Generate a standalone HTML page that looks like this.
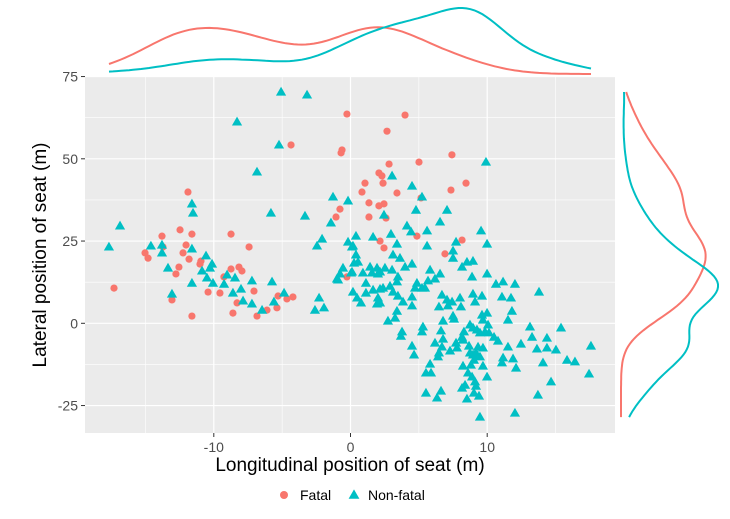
<!DOCTYPE html>
<html><head><meta charset="utf-8"><style>
html,body{margin:0;padding:0;background:#fff;}
svg{display:block;font-family:"Liberation Sans",Arial,sans-serif;}
</style></head><body>
<svg id="chart" width="730" height="519"></svg>
<script>
const xTicks=[-10,0,10];
const yTicks=[-25,0,25,50,75];
const fatalX=[-15.03,-14.81,-13.72,-12.03,-12.25,-11.81,-12.55,-12.77,-10.94,-11.01,-17.3,-13.06,-11.6,-10.42,-9.55,-9.26,-8.74,-8.16,-7.94,-7.42,-7.06,-8.3,-8.6,-6.84,-6.11,-5.38,-5.3,-4.65,-4.21,-0.26,-11.89,-13.79,-12.47,-11.6,-8.74,-4.35,-0.26,-0.62,-0.69,-0.77,-1.06,3.99,2.67,2.82,5.01,7.42,2.08,2.3,2.38,1.06,0.84,3.4,5.16,7.35,8.45,1.35,2.08,2.45,1.35,2.6,4.86,2.16,2.45,8.16,6.91];
const fatalY=[21.4,19.8,23.2,23.8,21.4,19.5,17.1,15.0,18.9,18.0,10.7,7.1,2.2,9.5,9.2,14.1,16.5,17.1,15.9,23.2,9.8,6.2,3.1,2.2,4.0,4.7,8.3,7.4,8.0,14.1,39.9,26.5,28.4,27.1,27.1,54.2,63.6,52.7,51.8,34.7,32.3,63.3,58.4,48.4,49.0,51.2,45.7,44.8,42.6,42.6,39.9,39.6,38.1,40.5,42.6,36.6,35.7,36.3,32.3,32.0,26.5,25.0,22.9,25.3,21.1];
const nonFatalX=[-5.08,-3.18,-8.3,-5.23,-6.84,-16.86,-11.6,-11.52,-5.82,-3.33,-1.28,-0.18,-1.43,-2.08,-2.45,0.4,-0.18,-17.67,-14.6,-13.79,-13.79,-11.6,-10.57,-13.35,-10.13,-10.28,-10.86,-10.5,-11.6,-10.06,-9.25,-9.03,-8.45,-7.21,-5.74,-8.01,-8.6,-7.86,-7.21,-6.47,-5.6,-4.86,-13.06,-2.3,-2.6,-1.94,0.11,0.4,0.26,-0.55,-0.77,-0.99,0.11,0.18,0.48,9.91,3.04,4.5,5.23,4.79,7.06,2.45,6.55,4.13,4.43,5.6,2.96,9.55,1.65,0.18,3.4,5.6,7.72,9.99,3.11,3.62,7.5,7.5,0.55,4.5,3.99,8.52,8.96,8.16,0.04,-0.91,0.91,1.43,1.57,1.94,2.01,2.16,2.52,3.04,3.47,3.4,5.82,6.55,6.18,5.67,4.86,4.72,5.23,5.45,1.13,1.65,2.16,2.38,2.89,3.11,0.77,1.13,2.01,2.16,1.94,3.47,3.84,4.5,4.5,3.4,3.26,2.74,6.69,7.06,7.43,8.01,6.47,7.13,8.08,7.5,7.57,6.77,8.96,9.62,9.11,9.62,9.99,9.69,9.99,8.89,10.64,11.16,12.03,11.08,11.74,11.81,11.52,13.79,5.3,5.23,3.77,3.69,4.5,4.65,6.62,6.77,6.18,6.69,6.47,6.4,5.82,5.52,5.89,7.28,7.72,7.79,8.23,8.16,8.74,8.3,8.96,9.25,9.47,10.06,9.84,10.13,10.5,10.79,8.67,8.74,8.96,9.18,9.47,9.33,9.69,9.03,9.69,8.23,8.81,8.6,8.89,9.11,9.99,8.38,8.16,9.18,9.03,9.4,8.52,5.52,6.62,6.33,9.47,12.03,13.71,14.67,14.08,11.89,12.11,11.08,11.16,11.52,12.47,13.28,13.13,13.64,14.37,14.37,15.03,15.4,15.84,16.42,17.59,17.45];
const nonFatalY=[70.3,69.4,61.2,54.2,46.0,29.6,36.3,33.5,33.5,32.6,38.4,37.2,30.5,25.6,23.5,26.5,24.7,23.2,23.5,23.8,21.4,22.6,20.5,16.8,18.0,16.8,15.9,13.8,12.2,12.2,11.9,14.7,13.8,12.9,12.6,10.4,9.2,6.8,5.9,4.0,6.5,9.2,8.9,7.7,4.0,4.7,23.2,20.8,18.3,16.8,15.0,13.5,15.6,9.5,7.7,49.0,44.8,41.7,38.4,34.4,34.4,32.9,30.8,29.6,27.8,28.1,27.1,28.1,26.2,23.5,24.1,23.5,24.7,24.1,20.8,19.8,22.0,19.8,18.6,18.0,17.1,18.6,18.9,17.1,15.3,13.2,15.3,17.1,15.3,16.8,15.0,15.6,16.8,16.2,14.1,12.6,16.2,15.0,13.5,12.9,12.2,10.7,10.7,10.7,12.2,10.1,10.4,10.7,11.3,9.5,6.2,9.2,7.7,6.2,5.9,8.3,6.5,8.0,5.3,3.7,1.6,0.7,8.6,7.1,6.5,7.7,5.0,5.3,5.0,2.2,1.3,0.7,8.9,8.3,6.5,2.5,3.1,1.0,15.0,14.1,11.9,12.6,11.9,8.0,7.7,3.7,1.0,9.5,-1.1,-2.6,-2.6,-3.9,-6.9,-9.6,-2.3,-4.8,-6.0,-7.2,-9.0,-10.2,-12.4,-15.1,-15.1,-8.4,-6.0,-7.5,-5.1,-4.2,-0.5,-2.6,-1.4,-2.0,-2.9,-0.5,-2.6,-2.9,-4.2,-5.4,-6.9,-9.0,-9.6,-9.0,-10.2,-7.2,-7.5,-11.2,-13.0,-13.0,-12.7,-15.1,-16.3,-17.8,-16.3,-18.8,-19.7,-19.1,-21.2,-22.1,-23.0,-21.2,-20.6,-22.7,-28.5,-27.3,-21.8,-17.8,-12.0,-10.8,-13.6,-12.0,-10.5,-7.2,-6.3,-4.2,-1.1,-7.8,-7.5,-4.5,-8.1,-1.4,-11.2,-11.7,-6.9,-15.4];

const NS="http://www.w3.org/2000/svg";
const svg=document.getElementById('chart');
const P={l:85,r:615,t:77,b:433};
const xS=v=>350.5+v*13.67;
const yS=v=>323.3-v*3.29;
function mk(tag,attrs,parent){const e=document.createElementNS(NS,tag);for(const k in attrs)e.setAttribute(k,attrs[k]);(parent||svg).appendChild(e);return e;}
const RED="#F8766D",TEAL="#00BFC4";

const panel=mk('rect',{x:P.l,y:P.t,width:P.r-P.l,height:P.b-P.t,fill:"#EBEBEB"});


// minor grid
for(let v=-15;v<=15;v+=10){const g=mk('line',{x1:xS(v),x2:xS(v),y1:P.t,y2:P.b,stroke:"#fff","stroke-width":0.6});}
for(let v=-12.5;v<=62.5;v+=25){const g=mk('line',{x1:P.l,x2:P.r,y1:yS(v),y2:yS(v),stroke:"#fff","stroke-width":0.6});}
xTicks.forEach(v=>{
 const g=mk('line',{x1:xS(v),x2:xS(v),y1:P.t,y2:P.b,stroke:"#fff","stroke-width":1.2});
 
 const tk=mk('line',{x1:xS(v),x2:xS(v),y1:P.b,y2:P.b+4,stroke:"#333","stroke-width":1});
 
 const t=mk('text',{x:xS(v),y:P.b+19,"text-anchor":"middle","font-size":14,fill:"#4D4D4D"});t.textContent=v;
 
});
yTicks.forEach(v=>{
 const g=mk('line',{x1:P.l,x2:P.r,y1:yS(v),y2:yS(v),stroke:"#fff","stroke-width":1.2});
 
 const tk=mk('line',{x1:P.l-4,x2:P.l,y1:yS(v),y2:yS(v),stroke:"#333","stroke-width":1});
 
 const t=mk('text',{x:P.l-7,y:yS(v)+5,"text-anchor":"end","font-size":14,fill:"#4D4D4D"});t.textContent=v;
 
});
// points
fatalX.forEach((x,i)=>{
 const c=mk('circle',{cx:xS(x),cy:yS(fatalY[i]),r:3.6,fill:RED});
 
});
function tri(cx,cy,s){return `${cx},${cy-s*0.62} ${cx-s*0.6},${cy+s*0.42} ${cx+s*0.6},${cy+s*0.42}`;}
nonFatalX.forEach((x,i)=>{
 const p=mk('polygon',{points:tri(xS(x),yS(nonFatalY[i]),8.5),fill:TEAL});
 
});
// KDE
function sd(a){const m=a.reduce((s,v)=>s+v,0)/a.length;return Math.sqrt(a.reduce((s,v)=>s+(v-m)**2,0)/(a.length-1));}
function iqr(a){const b=[...a].sort((p,q)=>p-q);const q=f=>{const h=(b.length-1)*f,lo=Math.floor(h);return b[lo]+(b[Math.min(lo+1,b.length-1)]-b[lo])*(h-lo);};return q(0.75)-q(0.25);}
function bw(a){return 0.9*Math.min(sd(a),iqr(a)/1.34)*Math.pow(a.length,-0.2);}
function kde(a,lo,hi){const h=bw(a),out=[];for(let i=0;i<=120;i++){const x=lo+(hi-lo)*i/120;let s=0;a.forEach(v=>{const z=(x-v)/h;s+=Math.exp(-z*z/2);});out.push([x,s/(a.length*h*Math.sqrt(2*Math.PI))]);}return out;}
const allX=fatalX.concat(nonFatalX),allY=fatalY.concat(nonFatalY);
const xlo=Math.min(...allX),xhi=Math.max(...allX),ylo=Math.min(...allY),yhi=Math.max(...allY);
const dxF=kde(fatalX,xlo,xhi),dxN=kde(nonFatalX,xlo,xhi);
const dyF=kde(fatalY,ylo,yhi),dyN=kde(nonFatalY,ylo,yhi);
const mxX=Math.max(...dxF.concat(dxN).map(d=>d[1]));
const mxY=Math.max(...dyF.concat(dyN).map(d=>d[1]));
function topPath(d){return d.map((p,i)=>(i?'L':'M')+xS(p[0]).toFixed(1)+','+(74-p[1]/mxX*66).toFixed(1)).join(' ');}
function rightPath(d){return d.map((p,i)=>(i?'L':'M')+(621+p[1]/mxY*97).toFixed(1)+','+yS(p[0]).toFixed(1)).join(' ');}
[[dxF,RED,'top-density-fatal'],[dxN,TEAL,'top-density-non-fatal']].forEach(([d,c,n])=>{
 const e=mk('path',{d:topPath(d),fill:"none",stroke:c,"stroke-width":2});
 
});
[[dyF,RED,'right-density-fatal'],[dyN,TEAL,'right-density-non-fatal']].forEach(([d,c,n])=>{
 const e=mk('path',{d:rightPath(d),fill:"none",stroke:c,"stroke-width":2});
 
});
// titles
const xt=mk('text',{x:350,y:471,"text-anchor":"middle","font-size":19,fill:"#000"});xt.textContent="Longitudinal position of seat (m)";

const yt=mk('text',{x:0,y:0,"text-anchor":"middle","font-size":19,fill:"#000",transform:"translate(46,255) rotate(-90)"});yt.textContent="Lateral position of seat (m)";

// legend
const lg=mk('g',{});
const lc=mk('circle',{cx:284,cy:495,r:4,fill:RED},lg);
const l1=mk('text',{x:300,y:500,"font-size":14,fill:"#000"},lg);l1.textContent="Fatal";
const lt=mk('polygon',{points:tri(354,495,9),fill:TEAL},lg);
const l2=mk('text',{x:368,y:500,"font-size":14,fill:"#000"},lg);l2.textContent="Non-fatal";
</script>
</body></html>
